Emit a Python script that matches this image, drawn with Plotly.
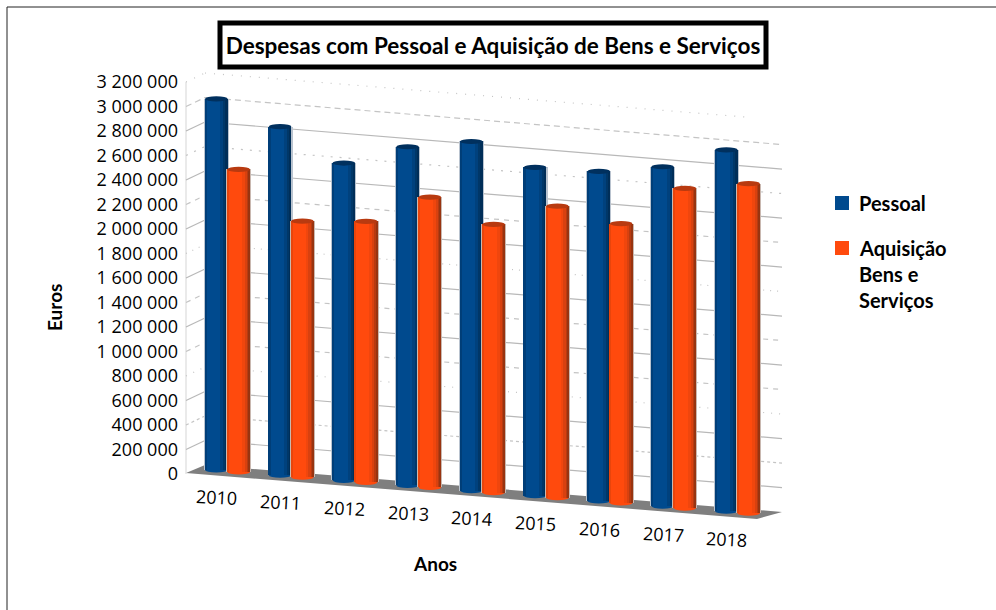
import plotly.graph_objects as go

# ---- data ----
years = ["2010", "2011", "2012", "2013", "2014", "2015", "2016", "2017", "2018"]
pessoal = [3030000, 2845000, 2590000, 2765000, 2850000, 2680000, 2690000, 2770000, 2950000]
aquisicao = [2470000, 2090000, 2130000, 2370000, 2190000, 2380000, 2280000, 2610000, 2690000]
grid_values = [200000 * i for i in range(1, 17)]
tick_values = [200000 * i for i in range(0, 17)]
tick_labels = [f"{v:,}".replace(",", " ") for v in tick_values]
grid_dash = ["solid", "3px,3px", "solid", "1px,7px", "5px,5px", "solid", "5px,5px", "solid",
             "1px,6px", "solid", "5px,5px", "solid", "2px,7px", "solid", "6px,4px", "1px,8px"]

W, H = 996, 610
K = 122.5 / 1e6          # pixels per euro
X0, PITCH = 227.5, 63.75  # pixel of first category, pixels per category
Y0 = 474                 # pixel of value 0
SKEW = 5.15              # pixels of descent per category (3D perspective)
FONT = "Lato"


def dx(px):  # pixel -> x axis
    return (px - X0) / PITCH


def dy(py):  # pixel -> y axis
    return (Y0 - py) / K


BLUE_STRIPS = [(0.0, 1.0, "#004a8e"), (-0.46, 0.08, "#003e78"),
               (0.26, 0.16, "#00417d"), (0.36, 0.10, "#003768"), (0.45, 0.10, "#002e58")]
ORANGE_STRIPS = [(0.0, 1.0, "#ff4a0d"), (-0.47, 0.06, "#e8450c"),
                 (0.22, 0.16, "#f0460d"), (0.32, 0.12, "#d8410f"), (0.41, 0.10, "#b83a10"), (0.47, 0.06, "#983410")]
BAR_W = 22.5 / PITCH
n = len(years)

fig = go.Figure()
shapes = []

# floor
floor = [(186, 473), (205, 465), (782, 512), (757, 519)]
path = "M " + " L ".join(f"{dx(a)},{dy(b)}" for a, b in floor) + " Z"
shapes.append(dict(type="path", path=path, xref="x", yref="y", fillcolor="#7f7f7f",
                   line=dict(width=0), layer="below"))

# back wall + side wall grid


def back_y(px, v):
    return dy(465 + 0.0815 * (px - 205)) + v


shapes.append(dict(type="line", xref="x", yref="y", x0=dx(186), x1=dx(186), y0=0, y1=3200000,
                   line=dict(color="#d5d5d5", width=1), layer="below"))
for v, d in zip(grid_values, grid_dash):
    col = "#b8b8b8" if d == "solid" else "#c4c4c4"
    shapes.append(dict(type="line", xref="x", yref="y", x0=dx(186), x1=dx(205), y0=v, y1=back_y(205, v),
                       line=dict(color=col, width=1.2, dash=d), layer="below"))
    xend = 750 if v == 3200000 else 782
    shapes.append(dict(type="line", xref="x", yref="y", x0=dx(205), x1=dx(xend), y0=back_y(205, v),
                       y1=back_y(xend, v), line=dict(color=col, width=1.2, dash=d), layer="below"))


def add_series(values, name, strips, halo, cap, offset, base_px):
    centers = [i + offset for i in range(n)]
    bases = [dy(Y0 - base_px) - i * SKEW / K for i in range(n)]
    tops = [b + v for b, v in zip(bases, values)]
    # soft outline
    fig.add_trace(go.Bar(x=centers, y=values, base=bases, width=(22.5 + 2.5) / PITCH, marker=dict(color=halo, line=dict(width=0)),
                         showlegend=False, hoverinfo="skip"))
    for k, (off, wf, col) in enumerate(strips):
        fig.add_trace(go.Bar(x=[c + off * BAR_W for c in centers], y=values, base=bases, width=wf * BAR_W,
                             marker=dict(color=col, line=dict(width=0)), name=name, showlegend=False))
    ry = 2.6 / K
    for c, b, t in zip(centers, bases, tops):
        shapes.append(dict(type="circle", xref="x", yref="y", x0=c - BAR_W / 2, x1=c + BAR_W / 2, y0=b - ry, y1=b + ry,
                           fillcolor=strips[0][2], line=dict(width=0), layer="below"))
        shapes.append(dict(type="circle", xref="x", yref="y", x0=c - BAR_W / 2, x1=c + BAR_W / 2, y0=t - ry, y1=t + ry,
                           fillcolor=cap, line=dict(width=0), layer="above"))


add_series(pessoal, "Pessoal", BLUE_STRIPS, "#b9c3cf", "#00305e", -0.175, 4)
add_series(aquisicao, "Aquisição Bens e Serviços", ORANGE_STRIPS, "#c9b8b0", "#b83a10", 0.175, 2)

# title box and outer frame
shapes.append(dict(type="rect", xref="paper", yref="paper", x0=220 / W, x1=766 / W, y0=1 - 67 / H, y1=1 - 23 / H,
                   line=dict(color="black", width=5), fillcolor="white", layer="below"))
shapes.append(dict(type="line", xref="paper", yref="paper", x0=7 / W, x1=1, y0=1 - 7 / H, y1=1 - 7 / H,
                   line=dict(color="#222222", width=1)))
shapes.append(dict(type="line", xref="paper", yref="paper", x0=7 / W, x1=7 / W, y0=0, y1=1 - 7 / H,
                   line=dict(color="#222222", width=1)))

# legend keys
for col, top in [("#004a8e", 196), ("#ff4a0d", 241)]:
    shapes.append(dict(type="rect", xref="paper", yref="paper", x0=835 / W, x1=849 / W, y0=1 - (top + 14) / H, y1=1 - top / H,
                       fillcolor=col, line=dict(width=0)))

annotations = [
    dict(text="<b>Euros</b>", xref="paper", yref="paper", x=54 / W, y=1 - 308 / H, textangle=-90, showarrow=False,
         xanchor="center", yanchor="middle", font=dict(family=FONT, size=19, color="black")),
    dict(text="<b>Anos</b>", xref="paper", yref="paper", x=435 / W, y=1 - 563 / H, showarrow=False,
         xanchor="center", yanchor="middle", font=dict(family=FONT, size=19, color="black")),
]
for txt, ypx in [("Pessoal", 203), ("Aquisição", 248), ("Bens e", 274), ("Serviços", 300)]:
    annotations.append(dict(text=f"<b>{txt}</b>", xref="paper", yref="paper", x=857 / W, y=1 - ypx / H, xanchor="left",
                            yanchor="middle", showarrow=False, font=dict(family=FONT, size=20, color="black")))
for i, yr in enumerate(years):
    annotations.append(dict(text=yr, xref="x", yref="y", x=i - 0.165, y=dy(497 + 5.25 * i), showarrow=False,
                            xanchor="center", yanchor="middle", textangle=3,
                            font=dict(family="Open Sans", size=18, color="black")))

fig.update_layout(
    width=W, height=H, autosize=False, margin=dict(l=0, r=0, t=0, b=0),
    paper_bgcolor="white", plot_bgcolor="white",
    barmode="overlay", bargap=0,
    title=dict(text="<b>Despesas com Pessoal e Aquisição de Bens e Serviços</b>", x=493 / W, xanchor="center",
               y=1 - 46 / H, yanchor="middle", font=dict(family=FONT, size=22.5, color="black")),
    xaxis=dict(visible=False, range=[dx(0), dx(W)], domain=[0, 1], fixedrange=True),
    yaxis=dict(range=[dy(H), dy(0)], domain=[0, 1], anchor="free", position=178 / W, showgrid=False, zeroline=False,
               showline=False, ticks="", tickvals=tick_values, ticktext=tick_labels,
               tickfont=dict(family="Open Sans", size=18, color="black"), fixedrange=True),
    shapes=shapes, annotations=annotations, showlegend=False,
)
fig.write_html("out.html", config=dict(displayModeBar=False),
               post_script="document.body.style.margin='0';document.documentElement.style.overflow='hidden';")
